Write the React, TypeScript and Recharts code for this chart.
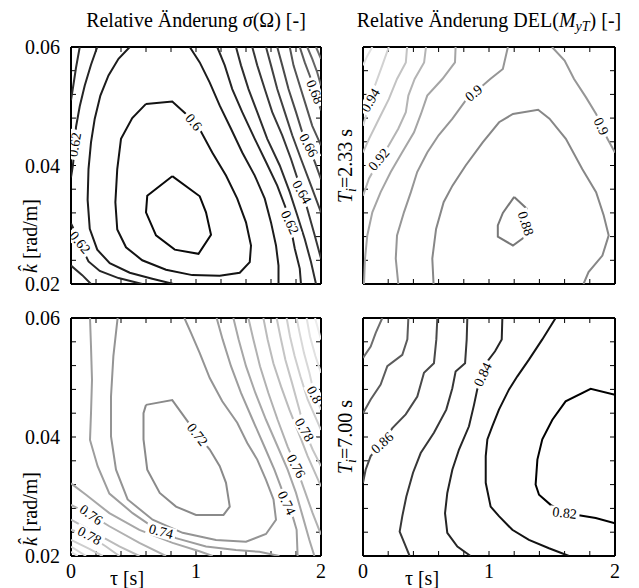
import React from 'react'
import { ScatterChart, Scatter, XAxis, YAxis } from 'recharts'

type Pt = [number, number]
type Lbl = { x: number; y: number; t: string; a: number }

const X_TICKS = [0, 1, 2]
const Y_TICKS = [0.02, 0.04, 0.06]
const X_MINOR = [0, 0.2, 0.4, 0.6, 0.8, 1, 1.2, 1.4, 1.6, 1.8, 2]
const Y_MINOR = [0.02, 0.024, 0.028, 0.032, 0.036, 0.04, 0.044, 0.048, 0.052, 0.056, 0.06]

// top left: sigma(Omega), Ti = 2.33 s
const TL_059: Pt[] = [[0.81, 0.0382], [1.03, 0.0348], [1.08, 0.0321], [1.12, 0.0283], [1.02, 0.0251], [0.83, 0.0258], [0.68, 0.0282], [0.6, 0.0321], [0.61, 0.0349], [0.81, 0.0382]]
const TL_060: Pt[] = [[0.6, 0.0504], [0.81, 0.0508], [0.92, 0.0487], [1.03, 0.0461], [1.13, 0.0422], [1.24, 0.0383], [1.33, 0.0344], [1.4, 0.0304], [1.44, 0.0265], [1.43, 0.0237], [1.35, 0.0219], [1.19, 0.0214], [0.97, 0.0215], [0.76, 0.0224], [0.57, 0.024], [0.44, 0.0262], [0.37, 0.0292], [0.355, 0.0338], [0.37, 0.0394], [0.4, 0.0445], [0.49, 0.048], [0.6, 0.0504]]
const TL_061L: Pt[] = [[0.47, 0.06], [0.38, 0.058], [0.3, 0.0552], [0.235, 0.0518], [0.19, 0.0479], [0.16, 0.0439], [0.14, 0.0394], [0.133, 0.0342], [0.15, 0.0293], [0.21, 0.0258], [0.31, 0.0235], [0.47, 0.0219], [0.65, 0.0209], [0.82, 0.02]]
const TL_061R: Pt[] = [[0.95, 0.06], [1.03, 0.0574], [1.11, 0.054], [1.19, 0.0501], [1.28, 0.0462], [1.37, 0.0422], [1.47, 0.0383], [1.55, 0.0344], [1.6, 0.0304], [1.64, 0.0265], [1.66, 0.0231], [1.66, 0.02]]
const TL_062L: Pt[] = [[0.21, 0.06], [0.16, 0.057], [0.11, 0.0535], [0.07, 0.05], [0.04, 0.0465], [0.03, 0.043], [0.015, 0.04], [0, 0.038]]
const TL_062B: Pt[] = [[0, 0.0302], [0.04, 0.0285], [0.09, 0.026], [0.14, 0.0238], [0.23, 0.0222], [0.38, 0.021], [0.57, 0.02]]
const TL_062R: Pt[] = [[1.17, 0.06], [1.23, 0.0569], [1.29, 0.0529], [1.37, 0.049], [1.47, 0.0445], [1.56, 0.0406], [1.65, 0.0366], [1.72, 0.0327], [1.75, 0.0304], [1.79, 0.026], [1.83, 0.0226], [1.84, 0.02]]
const TL_063L: Pt[] = [[0.07, 0.06], [0.04, 0.0565], [0.015, 0.053], [0, 0.051]]
const TL_063C: Pt[] = [[0, 0.0231], [0.09, 0.0215], [0.16, 0.02]]
const TL_063R: Pt[] = [[1.32, 0.06], [1.36, 0.0569], [1.42, 0.0529], [1.49, 0.049], [1.57, 0.0445], [1.67, 0.04], [1.75, 0.0355], [1.81, 0.0316], [1.87, 0.0276], [1.92, 0.0237], [1.96, 0.02]]
const TL_064R: Pt[] = [[1.45, 0.06], [1.49, 0.0569], [1.55, 0.0529], [1.61, 0.049], [1.69, 0.0451], [1.76, 0.0411], [1.83, 0.0366], [1.89, 0.0327], [1.95, 0.0282], [2.0, 0.0243]]
const TL_065R: Pt[] = [[1.56, 0.06], [1.6, 0.0569], [1.65, 0.0529], [1.71, 0.049], [1.77, 0.0451], [1.84, 0.0411], [1.91, 0.0372], [2.0, 0.0321]]
const TL_066R: Pt[] = [[1.65, 0.06], [1.69, 0.0569], [1.74, 0.0529], [1.8, 0.049], [1.85, 0.0456], [1.9, 0.0434], [1.95, 0.0406], [2.0, 0.0377]]
const TL_067R: Pt[] = [[1.75, 0.06], [1.78, 0.0569], [1.83, 0.0535], [1.88, 0.0501], [1.93, 0.0467], [2.0, 0.0434]]
const TL_068R: Pt[] = [[1.83, 0.06], [1.87, 0.0574], [1.92, 0.0546], [1.96, 0.0518], [2.0, 0.0493]]
const TL_069R: Pt[] = [[1.89, 0.06], [1.93, 0.058], [1.97, 0.0557], [2.0, 0.0535]]
const TL_070R: Pt[] = [[1.96, 0.06], [2.0, 0.058]]
const TL_LABELS: Lbl[] = [
  { x: 0.98, y: 0.0473, t: '0.6', a: 50 },
  { x: 1.75, y: 0.0304, t: '0.62', a: 65 },
  { x: 1.847, y: 0.0355, t: '0.64', a: 60 },
  { x: 1.9, y: 0.0434, t: '0.66', a: 62 },
  { x: 1.95, y: 0.0524, t: '0.68', a: 68 },
  { x: 0.03, y: 0.0435, t: '0.62', a: -80 },
  { x: 0.07, y: 0.027, t: '0.62', a: 50 },
]

// top right: DEL(MyT), Ti = 2.33 s
const TR_088: Pt[] = [[1.2, 0.0347], [1.3, 0.0327], [1.28, 0.0279], [1.19, 0.0265], [1.07, 0.028], [1.07, 0.0299], [1.11, 0.032], [1.2, 0.0347]]
const TR_089: Pt[] = [[0.56, 0.02], [0.55, 0.0243], [0.58, 0.0293], [0.64, 0.0338], [0.71, 0.0366], [0.815, 0.04], [0.95, 0.0439], [1.08, 0.0473], [1.19, 0.0487], [1.39, 0.0494], [1.48, 0.0479], [1.61, 0.0445], [1.74, 0.0394], [1.85, 0.0355], [1.91, 0.0316], [1.95, 0.0282], [1.9, 0.0248], [1.79, 0.022], [1.75, 0.02]]
const TR_090L: Pt[] = [[1.15, 0.06], [1.11, 0.0563], [1.01, 0.0546], [0.815, 0.051], [0.71, 0.0479], [0.6, 0.0451], [0.51, 0.0422], [0.43, 0.0389], [0.38, 0.0355], [0.325, 0.0321], [0.27, 0.0282], [0.26, 0.0243], [0.28, 0.02]]
const TR_090R: Pt[] = [[1.5, 0.06], [1.6, 0.0577], [1.675, 0.0546], [1.77, 0.0515], [1.85, 0.0487], [1.94, 0.0445], [2.0, 0.0422]]
const TR_091: Pt[] = [[0.735, 0.06], [0.73, 0.0574], [0.63, 0.0546], [0.51, 0.0518], [0.46, 0.0487], [0.405, 0.0456], [0.31, 0.0422], [0.22, 0.0389], [0.14, 0.0355], [0.074, 0.0321], [0.034, 0.0282], [0.016, 0.0243], [0.008, 0.02]]
const TR_092: Pt[] = [[0.5, 0.06], [0.485, 0.0574], [0.41, 0.0546], [0.36, 0.0518], [0.34, 0.049], [0.28, 0.0462], [0.205, 0.0434], [0.127, 0.0408], [0.048, 0.0378], [0, 0.0349]]
const TR_093: Pt[] = [[0.35, 0.06], [0.34, 0.0574], [0.27, 0.0546], [0.205, 0.0512], [0.127, 0.0479], [0.048, 0.0445], [0, 0.0422]]
const TR_094: Pt[] = [[0.205, 0.06], [0.153, 0.0569], [0.095, 0.0535], [0.048, 0.0501], [0, 0.0467]]
const TR_095: Pt[] = [[0.074, 0.06], [0.034, 0.0585], [0, 0.0569]]
const TR_LABELS: Lbl[] = [
  { x: 1.29, y: 0.0302, t: '0.88', a: 72 },
  { x: 0.88, y: 0.0522, t: '0.9', a: -40 },
  { x: 1.89, y: 0.0466, t: '0.9', a: 64 },
  { x: 0.127, y: 0.041, t: '0.92', a: -50 },
  { x: 0.06, y: 0.051, t: '0.94', a: -60 },
]

// bottom left: sigma(Omega), Ti = 7.00 s
const BL_072: Pt[] = [[0.6, 0.0454], [0.81, 0.0462], [0.92, 0.043], [1.01, 0.0404], [1.11, 0.0379], [1.19, 0.0351], [1.24, 0.0323], [1.27, 0.0283], [1.22, 0.0269], [1.0, 0.0269], [0.84, 0.0283], [0.71, 0.0306], [0.61, 0.0345], [0.58, 0.0396], [0.58, 0.044], [0.6, 0.0454]]
const BL_073: Pt[] = [[0.373, 0.06], [0.339, 0.0536], [0.32, 0.0468], [0.32, 0.0401], [0.36, 0.0345], [0.453, 0.0295], [0.653, 0.0261], [0.893, 0.0239], [1.16, 0.0227], [1.4, 0.0224], [1.56, 0.0237], [1.64, 0.0261], [1.62, 0.0295], [1.56, 0.0328], [1.49, 0.0362], [1.41, 0.039], [1.33, 0.0424], [1.21, 0.046], [1.11, 0.0499], [1.03, 0.0541], [0.96, 0.0575], [0.907, 0.06]]
const BL_074L: Pt[] = [[0.152, 0.06], [0.16, 0.0552], [0.168, 0.0496], [0.16, 0.044], [0.152, 0.0395], [0.213, 0.0351], [0.307, 0.0305], [0.493, 0.0272], [0.653, 0.0249], [0.84, 0.023], [1.08, 0.0216], [1.32, 0.021], [1.507, 0.0207], [1.667, 0.02]]
const BL_074R: Pt[] = [[1.165, 0.06], [1.213, 0.0564], [1.28, 0.0519], [1.36, 0.0474], [1.453, 0.0429], [1.547, 0.0384], [1.627, 0.0345], [1.688, 0.0311], [1.725, 0.0289], [1.773, 0.0267], [1.805, 0.0244], [1.813, 0.02]]
const BL_075B: Pt[] = [[0, 0.0322], [0.12, 0.0303], [0.307, 0.0272], [0.547, 0.0244], [0.813, 0.0222], [1.027, 0.0208], [1.133, 0.02]]
const BL_075R: Pt[] = [[1.299, 0.06], [1.341, 0.0564], [1.4, 0.0519], [1.475, 0.0474], [1.56, 0.0429], [1.653, 0.0384], [1.733, 0.0345], [1.8, 0.0306], [1.853, 0.0267], [1.907, 0.0227], [1.947, 0.02]]
const BL_076B: Pt[] = [[0, 0.0286], [0.16, 0.0269], [0.307, 0.025], [0.547, 0.0222], [0.76, 0.02]]
const BL_076R: Pt[] = [[1.419, 0.06], [1.459, 0.0564], [1.512, 0.0519], [1.579, 0.0474], [1.653, 0.0429], [1.733, 0.0384], [1.8, 0.0351], [1.867, 0.0311], [1.933, 0.0272], [2.0, 0.0236]]
const BL_077B: Pt[] = [[0, 0.0261], [0.173, 0.0241], [0.387, 0.0216], [0.547, 0.02]]
const BL_077R: Pt[] = [[1.539, 0.06], [1.573, 0.0564], [1.619, 0.0524], [1.68, 0.0485], [1.747, 0.0446], [1.821, 0.0407], [1.893, 0.0368], [2.0, 0.0317]]
const BL_078B: Pt[] = [[0, 0.0244], [0.147, 0.0234], [0.28, 0.0216], [0.387, 0.02]]
const BL_078R: Pt[] = [[1.645, 0.06], [1.675, 0.0569], [1.715, 0.053], [1.768, 0.0491], [1.827, 0.0446], [1.867, 0.0412], [1.933, 0.0379], [2.0, 0.0351]]
const BL_079B: Pt[] = [[0, 0.0227], [0.147, 0.0212], [0.253, 0.02]]
const BL_079R: Pt[] = [[1.725, 0.06], [1.752, 0.0569], [1.789, 0.0536], [1.835, 0.0502], [1.893, 0.0463], [2.0, 0.0412]]
const BL_080B: Pt[] = [[0, 0.0216], [0.12, 0.02]]
const BL_080R: Pt[] = [[1.805, 0.06], [1.829, 0.0575], [1.864, 0.0541], [1.907, 0.0508], [1.947, 0.0471], [2.0, 0.0446]]
const BL_081B: Pt[] = [[0, 0.0207], [0.053, 0.02]]
const BL_081R: Pt[] = [[1.885, 0.06], [1.912, 0.0569], [1.955, 0.0536], [2.0, 0.0508]]
const BL_082R: Pt[] = [[1.952, 0.06], [2.0, 0.0564]]
const BL_LABELS: Lbl[] = [
  { x: 1.01, y: 0.0404, t: '0.72', a: 52 },
  { x: 1.725, y: 0.0289, t: '0.74', a: 65 },
  { x: 1.8, y: 0.0351, t: '0.76', a: 62 },
  { x: 1.867, y: 0.0412, t: '0.78', a: 60 },
  { x: 1.947, y: 0.0471, t: '0.8', a: 62 },
  { x: 0.72, y: 0.0241, t: '0.74', a: 15 },
  { x: 0.16, y: 0.0269, t: '0.76', a: 35 },
  { x: 0.147, y: 0.0234, t: '0.78', a: 28 },
]

// bottom right: DEL(MyT), Ti = 7.00 s
const BR_082: Pt[] = [[2.0, 0.0471], [1.807, 0.0481], [1.608, 0.046], [1.503, 0.0429], [1.423, 0.0396], [1.384, 0.0362], [1.37, 0.032], [1.397, 0.0303], [1.489, 0.0286], [1.595, 0.0273], [1.701, 0.0269], [1.847, 0.0264], [2.0, 0.0255]]
const BR_083: Pt[] = [[1.529, 0.06], [1.423, 0.0564], [1.317, 0.053], [1.225, 0.0502], [1.159, 0.048], [1.079, 0.0446], [1.026, 0.0418], [0.987, 0.0396], [0.974, 0.0368], [0.974, 0.0323], [1.013, 0.0283], [1.079, 0.0267], [1.185, 0.0244], [1.317, 0.0227], [1.476, 0.0213], [1.635, 0.02]]
const BR_084: Pt[] = [[1.106, 0.06], [1.101, 0.0564], [1.048, 0.0544], [0.987, 0.0527], [0.952, 0.0505], [0.907, 0.048], [0.881, 0.0454], [0.841, 0.0418], [0.762, 0.0379], [0.709, 0.0345], [0.669, 0.0306], [0.651, 0.0272], [0.669, 0.0239], [0.749, 0.0216], [0.854, 0.02]]
const BR_085: Pt[] = [[0.828, 0.06], [0.823, 0.0564], [0.81, 0.0524], [0.735, 0.051], [0.709, 0.0482], [0.661, 0.0446], [0.563, 0.0407], [0.458, 0.0373], [0.397, 0.034], [0.344, 0.03], [0.312, 0.0267], [0.291, 0.0241], [0.339, 0.0216], [0.37, 0.02]]
const BR_086: Pt[] = [[0.59, 0.06], [0.582, 0.0564], [0.563, 0.0524], [0.484, 0.0508], [0.431, 0.0468], [0.339, 0.0438], [0.233, 0.0415], [0.153, 0.039], [0.061, 0.0368], [0.021, 0.0345], [0, 0.0323]]
const BR_087: Pt[] = [[0.36, 0.06], [0.352, 0.0564], [0.312, 0.0538], [0.193, 0.0519], [0.14, 0.0488], [0.061, 0.0463], [0, 0.044]]
const BR_088: Pt[] = [[0.153, 0.06], [0.101, 0.0575], [0.061, 0.0552], [0, 0.0533]]
const BR_LABELS: Lbl[] = [
  { x: 1.6, y: 0.0272, t: '0.82', a: 6 },
  { x: 0.952, y: 0.0505, t: '0.84', a: -65 },
  { x: 0.153, y: 0.039, t: '0.86', a: -42 },
]

const TL_LINES: Array<[number, Pt[]]> = [
  [0.59, TL_059], [0.6, TL_060], [0.61, TL_061L], [0.61, TL_061R], [0.62, TL_062L], [0.62, TL_062B], [0.62, TL_062R],
  [0.63, TL_063L], [0.63, TL_063C], [0.63, TL_063R], [0.64, TL_064R], [0.65, TL_065R], [0.66, TL_066R],
  [0.67, TL_067R], [0.68, TL_068R], [0.69, TL_069R], [0.7, TL_070R],
]
const TR_LINES: Array<[number, Pt[]]> = [
  [0.88, TR_088], [0.89, TR_089], [0.9, TR_090L], [0.9, TR_090R], [0.91, TR_091], [0.92, TR_092], [0.93, TR_093], [0.94, TR_094], [0.95, TR_095],
]
const BL_LINES: Array<[number, Pt[]]> = [
  [0.72, BL_072], [0.73, BL_073], [0.74, BL_074L], [0.74, BL_074R], [0.75, BL_075B], [0.75, BL_075R], [0.76, BL_076B], [0.76, BL_076R],
  [0.77, BL_077B], [0.77, BL_077R], [0.78, BL_078B], [0.78, BL_078R], [0.79, BL_079B], [0.79, BL_079R], [0.8, BL_080B], [0.8, BL_080R],
  [0.81, BL_081B], [0.81, BL_081R], [0.82, BL_082R],
]
const BR_LINES: Array<[number, Pt[]]> = [
  [0.82, BR_082], [0.83, BR_083], [0.84, BR_084], [0.85, BR_085], [0.86, BR_086], [0.87, BR_087], [0.88, BR_088],
]

const FONT = "'Liberation Serif', 'Times New Roman', serif"
const W = 639
const H = 588

// gray ramp per panel: [level lo, level hi, gray lo, gray hi]
function gray(v: number, ramp: number[]) {
  const [l0, l1, g0, g1] = ramp
  const t = Math.max(0, Math.min(1, (v - l0) / (l1 - l0)))
  const g = Math.round(g0 + (g1 - g0) * t)
  return `rgb(${g},${g},${g})`
}

const NoDot = () => <g />
const NoTick = () => <g />

function ContourLabel(props: any) {
  const { cx, cy, payload } = props
  if (cx == null || cy == null) return <g />
  const p = payload || props
  const w = p.t.length * 7 + 2
  return (
    <g transform={`translate(${cx},${cy}) rotate(${p.a})`}>
      <rect x={-w / 2} y={-6.5} width={w} height={13} fill="#fff" />
      <text textAnchor="middle" dominantBaseline="central" fontSize={14} fontFamily={FONT} fill="#000">
        {p.t}
      </text>
    </g>
  )
}

const tickStyle = { fontSize: 20, fill: '#000', fontFamily: FONT }
const frame = { stroke: '#000', strokeWidth: 2 }
const minor = { stroke: '#000', strokeWidth: 1 }

function Panel(props: {
  lines: Array<[number, Pt[]]>
  labels: Lbl[]
  ramp: number[]
  margin: { top: number; left: number; right: number; bottom: number }
  showX: boolean
  showY: boolean
}) {
  const { lines, labels, ramp, margin, showX, showY } = props
  return (
    <div style={{ position: 'absolute', left: 0, top: 0 }}>
      <ScatterChart width={W} height={H} margin={margin}>
        <XAxis xAxisId="m" dataKey="x" type="number" domain={[0, 2]} ticks={X_TICKS} hide={!showX}
          height={30} tickLine={false} axisLine={false} tickSize={0} tickMargin={8} tick={tickStyle}
          allowDataOverflow interval={0} />
        <YAxis yAxisId="m" dataKey="y" type="number" domain={[0.02, 0.06]} ticks={Y_TICKS} hide={!showY}
          width={60} tickLine={false} axisLine={false} tickSize={0} tickMargin={11} tick={tickStyle}
          tickFormatter={(v: number) => v.toFixed(2)} allowDataOverflow interval={0} />
        <XAxis xAxisId="b" dataKey="x" type="number" domain={[0, 2]} ticks={X_MINOR} orientation="bottom" mirror
          tickSize={5} tick={NoTick} tickLine={minor} axisLine={frame} interval={0} allowDataOverflow />
        <XAxis xAxisId="t" dataKey="x" type="number" domain={[0, 2]} ticks={X_MINOR} orientation="top" mirror
          tickSize={5} tick={NoTick} tickLine={minor} axisLine={frame} interval={0} allowDataOverflow />
        <YAxis yAxisId="l" dataKey="y" type="number" domain={[0.02, 0.06]} ticks={Y_MINOR} orientation="left" mirror
          tickSize={5} tick={NoTick} tickLine={minor} axisLine={frame} interval={0} allowDataOverflow />
        <YAxis yAxisId="r" dataKey="y" type="number" domain={[0.02, 0.06]} ticks={Y_MINOR} orientation="right" mirror
          tickSize={5} tick={NoTick} tickLine={minor} axisLine={frame} interval={0} allowDataOverflow />
        {lines.map(([lev, pts], i) => (
          <Scatter key={i} xAxisId="m" yAxisId="m" data={pts.map(([x, y]) => ({ x, y }))}
            line={{ stroke: gray(lev, ramp), strokeWidth: 2 }} lineType="joint" lineJointType="linear"
            shape={NoDot} isAnimationActive={false} />
        ))}
        {/* invisible series so the mirrored frame axes get a scale */}
        <Scatter xAxisId="b" yAxisId="l" data={X_MINOR.map((x, i) => ({ x, y: Y_MINOR[i] }))} shape={NoDot} isAnimationActive={false} />
        <Scatter xAxisId="t" yAxisId="r" data={X_MINOR.map((x, i) => ({ x, y: Y_MINOR[i] }))} shape={NoDot} isAnimationActive={false} />
        <Scatter xAxisId="m" yAxisId="m" data={labels} shape={ContourLabel} isAnimationActive={false} />
      </ScatterChart>
    </div>
  )
}

export default function App() {
  return (
    <div style={{ position: 'absolute', left: 0, top: 0, width: W, height: H, background: '#fff' }}>
      <Panel lines={TL_LINES} labels={TL_LABELS} ramp={[0.59, 0.7, 10, 110]}
        margin={{ top: 47, left: 11, right: 318, bottom: 304 }} showX={false} showY />
      <Panel lines={TR_LINES} labels={TR_LABELS} ramp={[0.88, 0.95, 120, 225]}
        margin={{ top: 47, left: 363, right: 24, bottom: 304 }} showX={false} showY={false} />
      <Panel lines={BL_LINES} labels={BL_LABELS} ramp={[0.72, 0.82, 138, 235]}
        margin={{ top: 318, left: 11, right: 318, bottom: 2 }} showX showY />
      <Panel lines={BR_LINES} labels={BR_LABELS} ramp={[0.82, 0.88, 0, 110]}
        margin={{ top: 318, left: 363, right: 24, bottom: 2 }} showX showY={false} />
      <svg width={W} height={H} style={{ position: 'absolute', left: 0, top: 0, pointerEvents: 'none' }}
        fontFamily={FONT} fill="#000">
        <text x={196} y={27} fontSize={20} textAnchor="middle">
          Relative Änderung <tspan fontStyle="italic">σ</tspan>(Ω) [-]
        </text>
        <text x={489} y={27} fontSize={20} textAnchor="middle">
          Relative Änderung DEL(<tspan fontStyle="italic">M</tspan>
          <tspan fontStyle="italic" fontSize={14} dy={4}>yT</tspan>
          <tspan dy={-4}>) [-]</tspan>
        </text>
        <text transform="translate(37,236) rotate(-90)" fontSize={20} textAnchor="middle">
          <tspan fontStyle="italic">k̂</tspan> [rad/m]
        </text>
        <text transform="translate(37,509) rotate(-90)" fontSize={20} textAnchor="middle">
          <tspan fontStyle="italic">k̂</tspan> [rad/m]
        </text>
        <text transform="translate(352,166) rotate(-90)" fontSize={20} textAnchor="middle">
          <tspan fontStyle="italic">T</tspan>
          <tspan fontStyle="italic" fontSize={14} dy={4}>i</tspan>
          <tspan dy={-4}>=2.33 s</tspan>
        </text>
        <text transform="translate(352,437) rotate(-90)" fontSize={20} textAnchor="middle">
          <tspan fontStyle="italic">T</tspan>
          <tspan fontStyle="italic" fontSize={14} dy={4}>i</tspan>
          <tspan dy={-4}>=7.00 s</tspan>
        </text>
        <text x={127} y={585} fontSize={20} textAnchor="middle">τ [s]</text>
        <text x={422} y={585} fontSize={20} textAnchor="middle">τ [s]</text>
      </svg>
    </div>
  )
}
